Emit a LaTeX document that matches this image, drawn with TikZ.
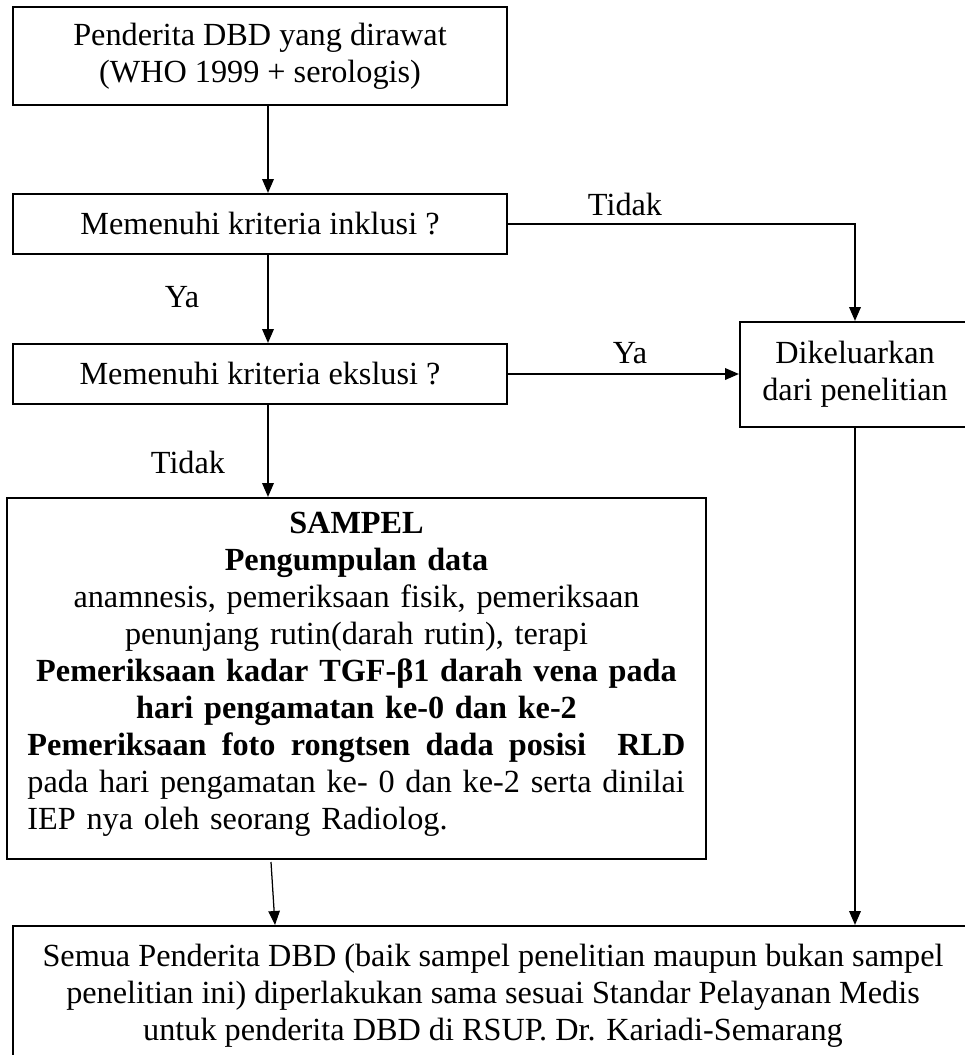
\documentclass[tikz,border=0pt]{standalone}
\usepackage{fontspec}
\setmainfont{Liberation Serif}
\usepackage{tikz}
\usetikzlibrary{arrows.meta,calc}
\newlength\sampelw
\setlength\sampelw{263.2pt}
\tikzset{
  box/.style={draw, line width=0.8pt, inner sep=0pt, align=center},
  flow/.style={draw, line width=0.8pt, -{Triangle[length=5.6pt,width=4.6pt]}},
  lbl/.style={inner sep=0pt}
}

\begin{document}
\begin{tikzpicture}[x=0.4pt,y=-0.4pt,every node/.style={font=\fontsize{12.9}{14.8}\selectfont}]
  \useasboundingbox (0,0) rectangle (965,1055);

  % boxes
  \node[box, minimum width=197.6pt, minimum height=39.2pt] (pend) at (260,56)
    {Penderita DBD yang dirawat\\(WHO 1999 + serologis)};
  \node[box, minimum width=197.6pt, minimum height=24pt] (inkl) at (260,224)
    {Memenuhi kriteria inklusi ?};
  \node[box, minimum width=197.6pt, minimum height=24pt] (eksl) at (260,374)
    {Memenuhi kriteria ekslusi ?};
  \node[box, minimum width=92pt, minimum height=42pt] (keluar) at (855,374.5)
    {Dikeluarkan\\dari penelitian};
  \node[box, text width=\sampelw, inner xsep=8.2pt, minimum height=144.4pt] (sampel) at (356.5,678.5)
    {\textbf{SAMPEL}\\
     \textbf{Pengumpulan data}\\
     anamnesis, pemeriksaan fisik, pemeriksaan\\
     penunjang rutin(darah rutin), terapi\\
     \textbf{Pemeriksaan kadar TGF-β1 darah vena pada}\\
     \textbf{hari pengamatan ke-0 dan ke-2}\\
     \makebox[\sampelw][l]{\textbf{Pemeriksaan\hfill foto\hfill rongtsen\hfill dada\hfill posisi\hfill\hspace{0.5em}RLD}}\\
     \makebox[\sampelw][s]{pada hari pengamatan ke- 0 dan ke-2 serta dinilai}\\
     \makebox[\sampelw][l]{IEP nya oleh seorang Radiolog.}\vspace{3pt}};
  \node[box, minimum width=384pt, minimum height=55.6pt] (semua) at (493,995.5)
    {Semua Penderita DBD (baik sampel penelitian maupun bukan sampel\\
     penelitian ini) diperlakukan sama sesuai Standar Pelayanan Medis\\
     untuk penderita DBD di RSUP. Dr. Kariadi-Semarang};

  % connectors
  \coordinate (spine) at (268,0);
  \draw[flow] (pend.south -| spine) -- (inkl.north -| spine);
  \draw[flow] (inkl.south -| spine) -- (eksl.north -| spine);
  \draw[flow] (eksl.south -| spine) -- (sampel.north -| spine);
  \draw[flow] (inkl.east) -| (keluar.north);
  \draw[flow] (eksl.east) -- (eksl.east -| keluar.west);
  \draw[flow] (keluar.south) -- (semua.north -| keluar.south);
  \coordinate (drop) at (271,862);
  \draw[flow, line width=0.5pt] (drop) -- (semua.north -| 275,0);

  % labels
  \node[lbl] (tidak1) at (625,204) {Tidak};
  \node[lbl] (ya1) at (182,297) {Ya};
  \node[lbl] (ya2) at (630,353) {Ya};
  \node[lbl] (tidak2) at (188,462) {Tidak};
\end{tikzpicture}
\end{document}
